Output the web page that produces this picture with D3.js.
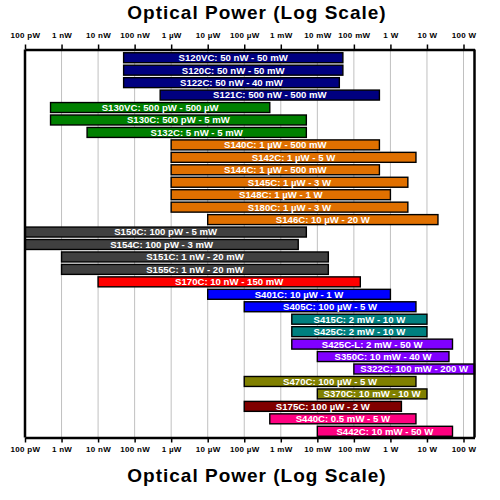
<!DOCTYPE html>
<html>
<head>
<meta charset="utf-8">
<script src="https://cdn.jsdelivr.net/npm/d3@7"></script>
<style>
  body { margin: 0; background: #fff; }
  svg { display: block; font-family: "Liberation Sans", Arial, sans-serif; }
</style>
</head>
<body>
<div id="chart"></div>
<script>
// sensor models, top to bottom
var models = ["S120VC", "S120C", "S122C", "S121C", "S130VC", "S130C", "S132C",
  "S140C", "S142C", "S144C", "S145C", "S148C", "S180C", "S146C",
  "S150C", "S154C", "S151C", "S155C", "S170C", "S401C", "S405C",
  "S415C", "S425C", "S425C-L", "S350C", "S322C", "S470C", "S370C",
  "S175C", "S440C", "S442C"];

var rangeText = ["50 nW - 50 mW", "50 nW - 50 mW", "50 nW - 40 mW", "500 nW - 500 mW",
  "500 pW - 500 \u00b5W", "500 pW - 5 mW", "5 nW - 5 mW",
  "1 \u00b5W - 500 mW", "1 \u00b5W - 5 W", "1 \u00b5W - 500 mW", "1 \u00b5W - 3 W",
  "1 \u00b5W - 1 W", "1 \u00b5W - 3 W", "10 \u00b5W - 20 W",
  "100 pW - 5 mW", "100 pW - 3 mW", "1 nW - 20 mW", "1 nW - 20 mW", "10 nW - 150 mW",
  "10 \u00b5W - 1 W", "100 \u00b5W - 5 W", "2 mW - 10 W", "2 mW - 10 W", "2 mW - 50 W",
  "10 mW - 40 W", "100 mW - 200 W", "100 \u00b5W - 5 W", "10 mW - 10 W",
  "100 \u00b5W - 2 W", "0.5 mW - 5 W", "10 mW - 50 W"];

// watts
var minPower = [5e-8, 5e-8, 5e-8, 5e-7, 5e-10, 5e-10, 5e-9,
  1e-6, 1e-6, 1e-6, 1e-6, 1e-6, 1e-6, 1e-5,
  1e-10, 1e-10, 1e-9, 1e-9, 1e-8, 1e-5, 1e-4,
  2e-3, 2e-3, 2e-3, 1e-2, 1e-1, 1e-4, 1e-2,
  1e-4, 5e-4, 1e-2];
var maxPower = [5e-2, 5e-2, 4e-2, 5e-1, 5e-4, 5e-3, 5e-3,
  5e-1, 5, 5e-1, 3, 1, 3, 20,
  5e-3, 3e-3, 2e-2, 2e-2, 1.5e-1, 1, 5,
  10, 10, 50, 40, 200, 5, 10,
  2, 5, 50];

var barColors = ["#000080", "#000080", "#000080", "#000080", "#008000", "#008000", "#008000",
  "#e07000", "#e07000", "#e07000", "#e07000", "#e07000", "#e07000", "#e07000",
  "#404040", "#404040", "#404040", "#404040", "#ff0000", "#0000ff", "#0000ff",
  "#008080", "#008080", "#8000ff", "#8000ff", "#8800ff", "#808000", "#808000",
  "#800000", "#ff0080", "#ff0080"];

var tickValues = [1e-10, 1e-9, 1e-8, 1e-7, 1e-6, 1e-5, 1e-4, 1e-3, 1e-2, 1e-1, 1, 10, 100];
var tickLabels = ["100 pW", "1 nW", "10 nW", "100 nW", "1 \u00b5W", "10 \u00b5W", "100 \u00b5W",
  "1 mW", "10 mW", "100 mW", "1 W", "10 W", "100 W"];

var width = 500, height = 500;
var plotLeft = 25, plotRight = 474.5, plotTop = 49.5, plotBottom = 437.5;

var svg = d3.select("#chart").append("svg")
  .attr("width", width)
  .attr("height", height);

var x = d3.scaleLog().domain([1e-10, 200]).range([plotLeft, plotRight]);
var y = d3.scaleBand().domain(models).range([plotTop + 2, plotBottom]).paddingInner(0.2).paddingOuter(0.1);

// grid
svg.append("g").selectAll("line")
  .data(tickValues.slice(1))
  .enter().append("line")
  .attr("x1", function(d) { return x(d); })
  .attr("x2", function(d) { return x(d); })
  .attr("y1", plotTop).attr("y2", plotBottom)
  .attr("stroke", "#c0c0c0").attr("stroke-width", 1);

var rows = models.map(function(m, i) {
  return { model: m, lo: minPower[i], hi: maxPower[i], text: m + ": " + rangeText[i], color: barColors[i] };
});

var bar = svg.append("g").selectAll("g")
  .data(rows)
  .enter().append("g");

bar.append("rect")
  .attr("x", function(d) { return x(d.lo); })
  .attr("y", function(d) { return y(d.model); })
  .attr("width", function(d) { return x(d.hi) - x(d.lo); })
  .attr("height", y.bandwidth())
  .attr("fill", function(d) { return d.color; })
  .attr("stroke", "#000").attr("stroke-width", 1.4);

bar.append("text")
  .attr("y", function(d) { return y(d.model) + y.bandwidth() / 2 + 3.4; })
  .attr("text-anchor", "middle")
  .attr("fill", "#fff")
  .attr("font-size", "9.6px")
  .attr("font-weight", "bold")
  .text(function(d) { return d.text; })
  .attr("x", function(d) {
    // keep label inside the frame when it is wider than the bar
    var mid = (x(d.lo) + x(d.hi)) / 2;
    var half = this.getComputedTextLength() / 2;
    return Math.min(mid, plotRight - half - 4);
  });

// axes
function fmt(d) { return tickLabels[tickValues.indexOf(d)]; }

var topAxis = svg.append("g")
  .attr("transform", "translate(0," + plotTop + ")")
  .call(d3.axisTop(x).tickValues(tickValues).tickFormat(fmt).tickSize(5).tickPadding(7).tickSizeOuter(0));
var bottomAxis = svg.append("g")
  .attr("transform", "translate(0," + plotBottom + ")")
  .call(d3.axisBottom(x).tickValues(tickValues).tickFormat(fmt).tickSize(5).tickPadding(4).tickSizeOuter(0));

[topAxis, bottomAxis].forEach(function(a) {
  a.select(".domain").attr("stroke", "#000").attr("stroke-width", 2.5);
  a.selectAll(".tick line").attr("stroke", "#000").attr("stroke-width", 1.5);
  a.selectAll(".tick text")
    .attr("font-family", "Liberation Sans, Arial, sans-serif")
    .attr("font-size", "8px").attr("font-weight", "bold")
    .attr("letter-spacing", "0.3px")
    .attr("fill", "#000");
});

// side frame
svg.append("line").attr("x1", plotLeft).attr("x2", plotLeft).attr("y1", plotTop).attr("y2", plotBottom)
  .attr("stroke", "#000").attr("stroke-width", 2.5);
svg.append("line").attr("x1", plotRight).attr("x2", plotRight).attr("y1", plotTop).attr("y2", plotBottom)
  .attr("stroke", "#000").attr("stroke-width", 2.5);

// titles
svg.append("text").attr("x", 257).attr("y", 19)
  .attr("text-anchor", "middle").attr("font-size", "19px").attr("font-weight", "bold")
  .attr("letter-spacing", "1px")
  .text("Optical Power (Log Scale)");
svg.append("text").attr("x", 257).attr("y", 482)
  .attr("text-anchor", "middle").attr("font-size", "19px").attr("font-weight", "bold")
  .attr("letter-spacing", "1px")
  .text("Optical Power (Log Scale)");
</script>
</body>
</html>
